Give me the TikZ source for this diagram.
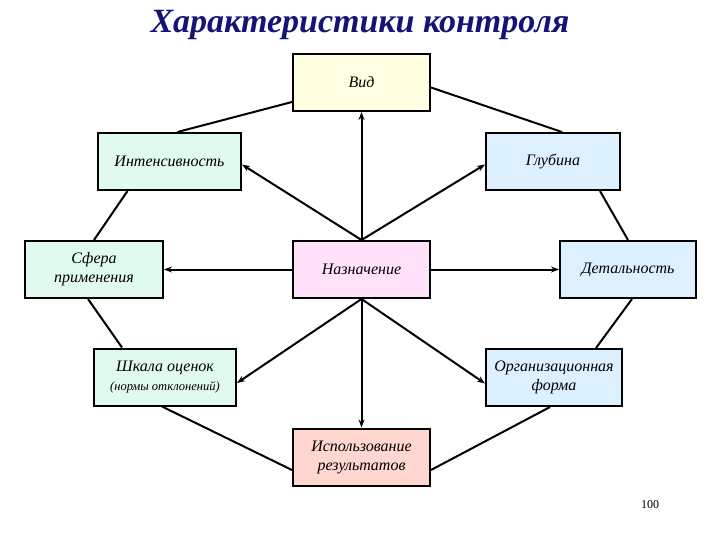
\documentclass[tikz,border=0pt]{standalone}
\usepackage{fontspec}
\setmainfont{Liberation Serif}
\usetikzlibrary{arrows.meta}
\begin{document}
\begin{tikzpicture}[x=1pt,y=-1pt,
 box/.style={draw=black,line width=2pt,minimum width=#1,minimum height=57pt,align=center,font=\itshape\fontsize{16}{19}\selectfont,inner sep=1pt},
 box/.default=137pt,
 ln/.style={line width=2pt},
 ar/.style={line width=2pt,-{Stealth[length=8pt,width=6pt]}}]
\useasboundingbox (0,0) rectangle (720,540);
\node[font=\itshape\bfseries\fontsize{34}{36}\selectfont,text={rgb,255:red,20;green,20;blue,120}] (title) at (360,25) {Характеристики контроля};
\node[box,fill={rgb,255:red,255;green,255;blue,225}] (vid) at (361.5,82.5) {Вид};
\node[box=143pt,fill={rgb,255:red,225;green,250;blue,238}] (int) at (169.5,161.5) {Интенсивность};
\node[box=134pt,fill={rgb,255:red,220;green,240;blue,255}] (glu) at (553,161.5) {Глубина};
\node[box=138pt,fill={rgb,255:red,225;green,250;blue,238}] (sph) at (94,269.5) {Сфера\\применения};
\node[box,fill={rgb,255:red,255;green,225;blue,250}] (naz) at (361.5,269.5) {Назначение};
\node[box=136pt,fill={rgb,255:red,220;green,240;blue,255}] (det) at (628,269.5) {Детальность};
\node[box=142pt,fill={rgb,255:red,225;green,250;blue,238}] (shk) at (165,377) {Шкала оценок\\{\fontsize{12.5}{15}\selectfont (нормы отклонений)}};
\node[box=136pt,fill={rgb,255:red,220;green,240;blue,255}] (org) at (554,377.5) {Организационная\\форма};
\node[box,fill={rgb,255:red,255;green,215;blue,208}] (isp) at (361.5,457) {Использование\\результатов};
\node[font=\fontsize{12}{13}\selectfont] (num) at (650,505) {100};
\draw[ln] ([yshift=-19.5pt]vid.west) -- ([xshift=8pt]int.north);
\draw[ln] ([yshift=-5pt]vid.east) -- ([xshift=9pt]glu.north);
\draw[ln] ([xshift=-42pt]int.south) -- (sph.north);
\draw[ln] ([xshift=47pt]glu.south) -- (det.north);
\draw[ln] ([xshift=-6pt]sph.south) -- ([xshift=-43pt]shk.north);
\draw[ln] ([xshift=4pt]det.south) -- ([xshift=42pt]org.north);
\draw[ln] ([xshift=-3pt]shk.south) -- ([yshift=-13pt]isp.west);
\draw[ln] ([xshift=-4pt]org.south) -- ([yshift=-13pt]isp.east);
\draw[ar] (naz.north) -- (vid.south);
\draw[ar] (naz.north) -- ([yshift=-3pt]int.east);
\draw[ar] (naz.north) -- ([yshift=-3pt]glu.west);
\draw[ar] (naz.west) -- (sph.east);
\draw[ar] (naz.east) -- (det.west);
\draw[ar] (naz.south) -- ([yshift=-6pt]shk.east);
\draw[ar] (naz.south) -- ([yshift=-6pt]org.west);
\draw[ar] (naz.south) -- (isp.north);
\end{tikzpicture}
\end{document}
